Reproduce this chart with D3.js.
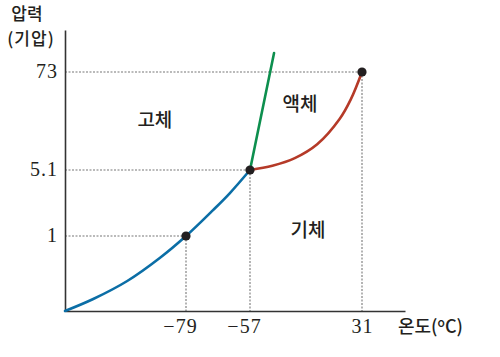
<!DOCTYPE html>
<html><head><meta charset="utf-8">
<script src="https://cdn.jsdelivr.net/npm/d3@7"></script>
<style>
body{margin:0;background:#fff;}
svg{display:block;}
</style></head>
<body>
<svg id="chart" width="500" height="357"></svg>
<script>
// ---- data ----
const xTicks = [-79, -57, 31];
const yTicks = [1, 5.1, 73];
const xLabels = ["−79", "−57", "31"];
const yLabels = ["1", "5.1", "73"];
const sublimT = [-100, -95.1, -89.2, -83.5, -79, -69.7, -63.9, -57];
const sublimP = [0, 0.16, 0.40, 0.71, 1, 2.61, 3.67, 5.1];
const vaporT = [-57, -39.4, -21.8, -4.2, 13.4, 22.2, 31];
const vaporP = [5.1, 8.0, 13.3, 22.9, 40.4, 54.0, 73];
const meltT = [-57, -38.1];
const meltP = [5.1, 85.2];
const pointT = [-79, -57, 31];
const pointP = [1, 5.1, 73];
const regionNames = ["고체", "액체", "기체"];
const regionT = [-84.4, -17.7, -11.4];
const regionP = [34.9, 46, 0.99];

// ---- scales (schematic, piecewise) ----
const x = d3.scaleLinear().domain([-100, -79, -57, 31, 65]).range([65, 186, 250, 362, 405]);
const y = d3.scaleLinear().domain([0, 1, 5.1, 73, 100]).range([311, 236, 170, 72, 30]);

const svg = d3.select("#chart");
const numFont = "'Liberation Serif', serif";
const korFont = "'Noto Sans CJK KR', sans-serif";

// guide lines
const guides = svg.append("g").attr("stroke", "#777").attr("stroke-width", 1.1)
  .attr("stroke-dasharray", "2,1.5").attr("fill", "none");
pointT.forEach((t, i) => {
  guides.append("line").attr("x1", x(-100)).attr("x2", x(t)).attr("y1", y(pointP[i])).attr("y2", y(pointP[i]));
  guides.append("line").attr("x1", x(t)).attr("x2", x(t)).attr("y1", y(pointP[i])).attr("y2", y(0));
});

// axes
const yAxis = svg.append("g").attr("transform", `translate(${x(-100)},0)`)
  .call(d3.axisLeft(y).tickValues(yTicks).tickSize(0).tickPadding(8)
    .tickFormat((d, i) => yLabels[i]));
const xAxis = svg.append("g").attr("transform", `translate(0,${y(0)})`)
  .call(d3.axisBottom(x).tickValues(xTicks).tickSize(0).tickPadding(8)
    .tickFormat((d, i) => xLabels[i]));
[xAxis, yAxis].forEach(a => {
  a.select(".domain").attr("stroke", "#333").attr("stroke-width", 1.6);
  a.selectAll("text").attr("font-family", numFont).attr("font-size", 20)
    .attr("fill", "#231f20").attr("letter-spacing", 1);
});
yAxis.selectAll("text").attr("dy", "0.25em").attr("x", -7);
xAxis.selectAll("text").attr("dx", d => d < 0 ? -6 : 0);

// curves
const line = d3.line().x(d => x(d[0])).y(d => y(d[1])).curve(d3.curveCatmullRom.alpha(0.5));
function drawCurve(T, P, color) {
  svg.append("path").datum(T.map((t, i) => [t, P[i]]))
    .attr("d", line).attr("fill", "none").attr("stroke", color)
    .attr("stroke-width", 2.6).attr("stroke-linecap", "round");
}
drawCurve(sublimT, sublimP, "#0b6ea6");
drawCurve(vaporT, vaporP, "#b53a28");
drawCurve(meltT, meltP, "#0d8f4e");

// points
svg.append("g").selectAll("circle").data(pointT).join("circle")
  .attr("cx", d => x(d)).attr("cy", (d, i) => y(pointP[i])).attr("r", 4.6).attr("fill", "#231f20");

// region labels
svg.append("g").selectAll("text").data(regionNames).join("text")
  .attr("x", (d, i) => x(regionT[i])).attr("y", (d, i) => y(regionP[i]))
  .attr("text-anchor", "middle").attr("font-family", korFont).attr("font-size", 19)
  .attr("font-weight", 500).attr("fill", "#231f20").text(d => d);

// axis titles
svg.append("text").attr("x", 27).attr("y", 20).attr("text-anchor", "middle")
  .attr("font-family", korFont).attr("font-size", 17).attr("font-weight", 500)
  .attr("fill", "#231f20").text("압력");
svg.append("text").attr("x", 31).attr("y", 45).attr("text-anchor", "middle")
  .attr("font-family", korFont).attr("font-size", 17).attr("font-weight", 500)
  .attr("fill", "#231f20").attr("letter-spacing", 1).text("(기압)");
const xt = svg.append("text").attr("x", 398).attr("y", 333)
  .attr("font-family", korFont).attr("font-size", 18).attr("font-weight", 500).attr("fill", "#231f20");
xt.append("tspan").text("온도(");
xt.append("tspan").attr("font-size", 12).attr("dy", -6).text("o");
xt.append("tspan").attr("dy", 6).text("C)");
</script>
</body></html>
